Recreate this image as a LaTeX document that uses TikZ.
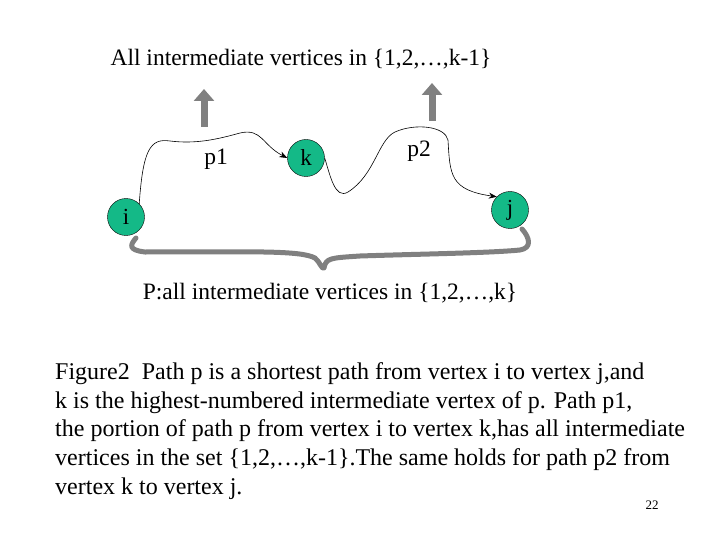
\documentclass[tikz,border=0pt]{standalone}
\usepackage{fontspec}
\setmainfont{Liberation Serif}
\usetikzlibrary{arrows.meta}
\definecolor{vg}{RGB}{20,185,135}
\definecolor{gr}{RGB}{128,128,128}
\tikzset{vert/.style={circle,draw=black,fill=vg,minimum size=37pt,inner sep=0pt,font=\fontsize{23}{23}\selectfont},
lab/.style={font=\fontsize{23.5}{23.5}\selectfont,inner sep=0pt},
uparr/.style={draw=gr,line width=7pt,-{Triangle[length=12pt,width=20pt]}},
path/.style={draw=black,line width=0.6pt,-{Stealth[length=8pt]}}}
\begin{document}
\begin{tikzpicture}[x=1pt,y=-1pt]
\useasboundingbox (0,0) rectangle (720,540);
\node[lab] (t1) at (301,59) {All intermediate vertices in \{1,2,…,k-1\}};
\node[vert] (i) at (126,217) {i};
\node[vert] (k) at (306,158) {k};
\node[vert] (j) at (510,210) {j};
\node[lab] (p1) at (216,159) {p1};
\node[lab] (p2) at (419,151) {p2};
\coordinate (a1s) at (204,127); \coordinate (a1e) at (204,89);
\coordinate (a2s) at (432,121); \coordinate (a2e) at (432,83);
\draw[uparr] (a1s) -- (a1e);
\draw[uparr] (a2s) -- (a2e);
\draw[path] (i.north east) .. controls (143,150) and (150,138) .. (170,141)
  .. controls (195,144) and (215,140) .. (240,133)
  .. controls (262,128) and (262,145) .. (k.west);
\draw[path] (k.east) .. controls (330,175) and (335,200) .. (348,192)
  .. controls (375,175) and (378,140) .. (395,132)
  .. controls (415,123) and (445,126) .. (448,140)
  .. controls (450,175) and (450,190) .. (j.north west);
\draw[gr,line width=5pt,line cap=round,line join=round]
  (136,238) .. controls (130,245) and (128,250) .. (145,252)
  .. controls (250,252) and (300,250) .. (315,258)
  .. controls (320,262) and (322,270) .. (324,268)
  .. controls (326,258) and (330,258) .. (360,256)
  .. controls (420,254) and (490,253) .. (520,250)
  .. controls (532,248) and (530,238) .. (522,229);
\node[lab] (t2) at (330,293) {P:all intermediate vertices in \{1,2,…,k\}};
\node[lab,anchor=west,align=left,font=\fontsize{24}{28.6}\selectfont] (cap) at (55,431) {Figure2\ \ Path p is a shortest path from vertex i to vertex j,and\\
k is the highest-numbered intermediate vertex of p. Path p1,\\
the portion of path p from vertex i to vertex k,has all intermediate\\
vertices in the set \{1,2,…,k-1\}.The same holds for path p2 from\\
vertex k to vertex j.};
\node[font=\fontsize{13}{13}\selectfont] (num) at (652,505) {22};
\end{tikzpicture}
\end{document}
